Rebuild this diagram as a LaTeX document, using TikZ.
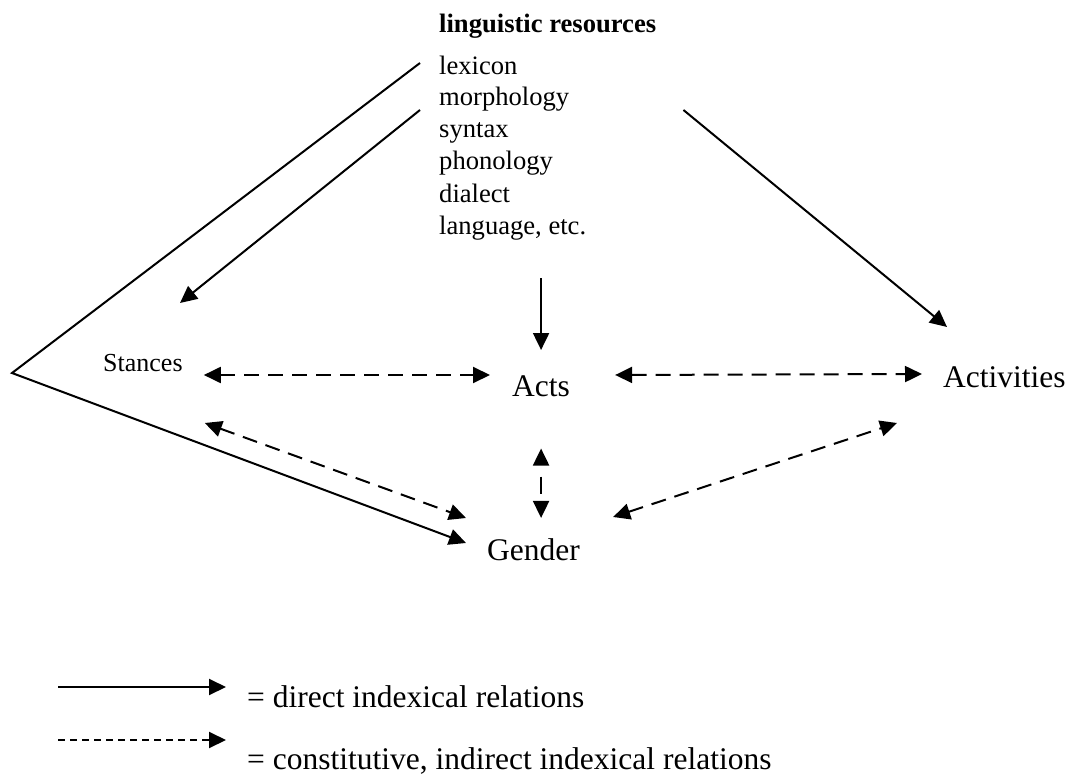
\documentclass[tikz,border=0pt]{standalone}
\usepackage{fontspec}
\setmainfont{Liberation Serif}
\usetikzlibrary{arrows.meta,calc}

\tikzset{
  direct/.style={line width=2pt,-{Triangle[length=17pt,width=16pt]}},
  indirect/.style={line width=2pt,dash pattern=on 15pt off 9pt,
    {Triangle[length=17pt,width=16pt]}-{Triangle[length=17pt,width=16pt]}},
  keydash/.style={line width=2pt,dash pattern=on 7pt off 5pt,-{Triangle[length=17pt,width=16pt]}},
}

\begin{document}
\begin{tikzpicture}[x=1pt,y=-1pt]
  \useasboundingbox (0,0) rectangle (1070,783);

  % resources list
  \begin{scope}[every node/.style={inner sep=0pt,anchor=base west,font=\fontsize{26.6}{32}\selectfont}]
    \node (res)   at (439,33)  {\bfseries linguistic resources};
    \node (lex)   at (439,75)  {lexicon};
    \node (morph) at (439,106) {morphology};
    \node (synt)  at (439,138) {syntax};
    \node (phon)  at (439,170) {phonology};
    \node (dial)  at (439,203) {dialect};
    \node (lang)  at (439,235) {language, etc.};
    \node (stances) at (103,371) {\fontsize{26}{30}\selectfont Stances};
  \end{scope}

  \begin{scope}[every node/.style={inner sep=0pt,anchor=base west,font=\fontsize{31.5}{36}\selectfont}]
    \node (acts)       at (512,396) {Acts};
    \node (activities) at (943,387) {Activities};
    \node (gender)     at (487,560) {Gender};
    \node (keyd) at (247,707) {= direct indexical relations};
    \node (keyi) at (247,769) {= constitutive, indirect indexical relations};
  \end{scope}

  \coordinate (apex)  at (12,373);
  \coordinate (keyd0) at (58,687);
  \coordinate (keyi0) at (58,740);

  % direct relations
  \draw[direct] ([shift={(-19,-12)}]lex.base west) -- (apex) -- ([shift={(-21,-17)}]gender.base west);
  \draw[direct] ([shift={(-19,4)}]morph.base west) -- ([shift={(77,-68)}]stances.base west);
  \draw[direct] ([shift={(114,4)}]morph.base east) -- ([shift={(4,-60)}]activities.base west);
  \draw[direct] ([shift={(0,-97)}]acts.north) -- ([shift={(0,-25)}]acts.north);

  % indirect relations
  \begin{scope}[every edge/.style={draw,indirect}]
    \path ([shift={(21,4)}]stances.base east) edge ([shift={(-22,-21)}]acts.base west);
    \path ([shift={(45,-21)}]acts.base east) edge ([shift={(-21,-13)}]activities.base west);
    \path ([shift={(22,52)}]stances.base east) edge ([shift={(-21,-42)}]gender.base west);
    \path ([shift={(33,-43)}]gender.base east) edge ([shift={(-46,36)}]activities.base west);
    \path ($(acts.south)+(0,52)$) edge[dash pattern=on 17pt off 23pt,dash phase=28.5pt]
      ($(acts.south |- gender.north)+(0,-20)$);
  \end{scope}

  % key
  \draw[direct] (keyd0) -- ([shift={(-21,-20)}]keyd.base west);
  \draw[keydash] (keyi0) -- ([shift={(-21,-29)}]keyi.base west);

\end{tikzpicture}
\end{document}
